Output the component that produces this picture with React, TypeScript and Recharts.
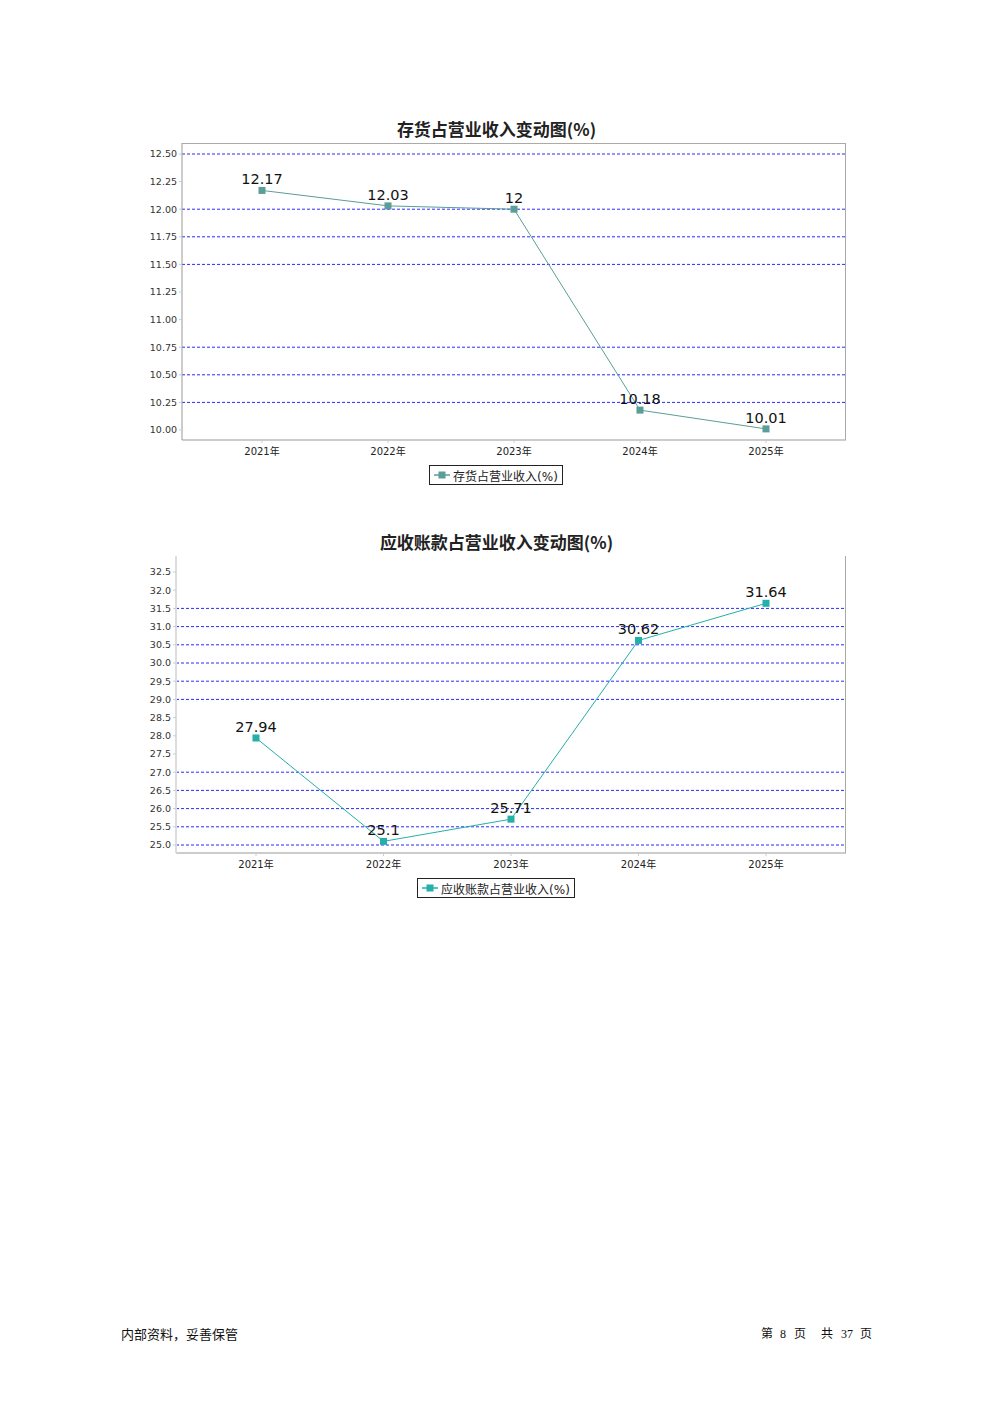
import { CartesianGrid, LabelList, Line, LineChart, ReferenceLine, XAxis, YAxis } from "recharts";

const years = ["2021年", "2022年", "2023年", "2024年", "2025年"];

const inventoryValues = [12.17, 12.03, 12, 10.18, 10.01];
const inventoryTicks = [10, 10.25, 10.5, 10.75, 11, 11.25, 11.5, 11.75, 12, 12.25, 12.5];
const inventoryGrid = [12.5, 12, 11.75, 11.5, 10.75, 10.5, 10.25];

const receivableValues = [27.94, 25.1, 25.71, 30.62, 31.64];
const receivableTicks = [25, 25.5, 26, 26.5, 27, 27.5, 28, 28.5, 29, 29.5, 30, 30.5, 31, 31.5, 32, 32.5];
const receivableGrid = [31.5, 31, 30.5, 30, 29.5, 29, 27, 26.5, 26, 25.5, 25];

const FONT = "'DejaVu Sans', 'Noto Sans CJK SC', sans-serif";

type ChartProps = {
  title: string;
  legend: string;
  values: number[];
  ticks: number[];
  grid: number[];
  domain: [number, number];
  pad: { top: number; bottom: number };
  digits: number;
  color: string;
  top: number;
  yWidth: number;
  topBorder: boolean;
  legendLeft: number;
  legendWidth: number;
};

function SquareDot(props: any) {
  const { cx, cy, fill } = props;
  if (cx == null || cy == null) return null;
  return <rect x={cx - 3.5} y={cy - 3.5} width={7} height={7} fill={fill} />;
}

function TrendChart(p: ChartProps) {
  const rows = years.map((y, i) => ({ year: y, v: p.values[i] }));
  const W = 740;
  const H = 345;
  const plotLeft = 120 + p.yWidth;
  const plotTop = p.top + 28;
  const plotBottom = p.top + H - 20;
  return (
    <>
      <div
        style={{
          position: "absolute",
          left: 120,
          width: W,
          top: p.top + 3,
          textAlign: "center",
          fontFamily: "'Noto Sans CJK SC', sans-serif",
          fontWeight: 700,
          fontSize: 17,
          lineHeight: "22px",
          color: "#222",
          paddingLeft: 13,
          boxSizing: "border-box",
        }}
      >
        {p.title}
      </div>
      <div style={{ position: "absolute", left: 120, top: p.top }}>
        <LineChart width={W} height={H} data={rows} margin={{ top: 28, right: 14, left: 0, bottom: 0 }}>
          <CartesianGrid horizontal={false} vertical={false} />
          <XAxis
            dataKey="year"
            padding={{ left: 80, right: 80 }}
            height={20}
            tick={{ fontSize: 10, fill: "#222", fontFamily: FONT, dy: 3 }}
            tickSize={3}
            stroke="#999"
            axisLine={{ stroke: "#999" }}
            tickLine={{ stroke: "#ccc" }}
          />
          <YAxis
            type="number"
            domain={p.domain}
            ticks={p.ticks}
            interval={0}
            width={p.yWidth}
            padding={p.pad}
            tickFormatter={(v: number) => v.toFixed(p.digits)}
            tick={{ fontSize: 9.5, fill: "#333", fontFamily: FONT }}
            tickSize={3}
            axisLine={{ stroke: p.topBorder ? "#999" : "#ddd", strokeWidth: p.topBorder ? 1 : 2 }}
            tickLine={{ stroke: "#ccc" }}
          />
          {p.grid.map((g) => (
            <ReferenceLine key={g} y={g} stroke="#2a2aff" strokeDasharray="3 2" strokeWidth={1} />
          ))}
          <Line
            type="linear"
            dataKey="v"
            stroke={p.color}
            strokeWidth={1}
            dot={<SquareDot fill={p.color} />}
            activeDot={false}
            isAnimationActive={false}
          >
            <LabelList
              dataKey="v"
              position="top"
              offset={6}
              style={{ fontSize: 14.5, fill: "#111", fontFamily: FONT }}
            />
          </Line>
        </LineChart>
      </div>
      <div
        style={{
          position: "absolute",
          left: plotLeft,
          top: plotTop,
          width: 846 - plotLeft,
          height: plotBottom - plotTop,
          borderTop: p.topBorder ? "1px solid #aaa" : "none",
          borderRight: "1px solid #aaa",
          boxSizing: "border-box",
          pointerEvents: "none",
        }}
      />
      <div
        style={{
          position: "absolute",
          left: p.legendLeft,
          top: plotBottom + 25,
          width: p.legendWidth,
          height: 20,
          border: "1px solid #222",
          boxSizing: "border-box",
          display: "flex",
          alignItems: "center",
          justifyContent: "center",
          fontFamily: FONT,
          fontSize: 12,
          color: "#222",
          whiteSpace: "nowrap",
        }}
      >
        <svg width={16} height={8} style={{ marginRight: 3 }}>
          <line x1={0} y1={4} x2={16} y2={4} stroke={p.color} strokeWidth={1.5} />
          <rect x={4.5} y={0.5} width={7} height={7} fill={p.color} />
        </svg>
        {p.legend}
      </div>
    </>
  );
}

const footerStyle = {
  position: "absolute" as const,
  top: 1324,
  fontFamily: "'Noto Sans CJK SC', serif",
  fontSize: 13,
  color: "#111",
  whiteSpace: "nowrap" as const,
};

const digitStyle = { fontFamily: "'Liberation Serif', serif" };

export default function App() {
  return (
    <div style={{ position: "absolute", left: 0, top: 0, width: 992, height: 1403, background: "#fff" }}>
      <TrendChart
        title="存货占营业收入变动图(%)"
        legend="存货占营业收入(%)"
        values={inventoryValues}
        ticks={inventoryTicks}
        grid={inventoryGrid}
        domain={[10, 12.5]}
        pad={{ top: 11, bottom: 10 }}
        digits={2}
        color="#5a9e97"
        top={115}
        yWidth={62}
        topBorder={true}
        legendLeft={429}
        legendWidth={134}
      />
      <TrendChart
        title="应收账款占营业收入变动图(%)"
        legend="应收账款占营业收入(%)"
        values={receivableValues}
        ticks={receivableTicks}
        grid={receivableGrid}
        domain={[25, 32.5]}
        pad={{ top: 16, bottom: 8 }}
        digits={1}
        color="#22b0a8"
        top={528}
        yWidth={56}
        topBorder={false}
        legendLeft={417}
        legendWidth={158}
      />
      <div style={{ ...footerStyle, left: 121 }}>内部资料，妥善保管</div>
      <div style={{ ...footerStyle, left: 761, fontSize: 12 }}>
        第<span style={{ ...digitStyle, marginLeft: 7, marginRight: 8 }}>8</span>页
        <span style={{ marginLeft: 15 }}>共</span>
        <span style={{ ...digitStyle, marginLeft: 8, marginRight: 7 }}>37</span>页
      </div>
    </div>
  );
}
